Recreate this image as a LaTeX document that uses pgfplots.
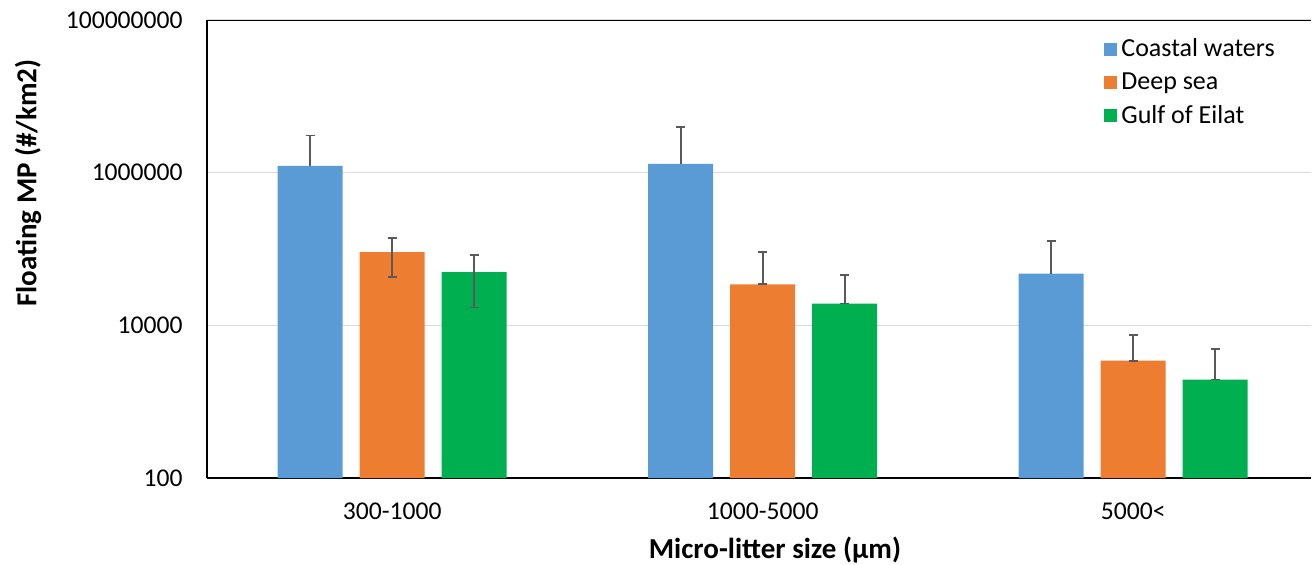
\documentclass[border=0pt]{standalone}
\usepackage{pgfplots}
\pgfplotsset{compat=1.18}
\usepackage{fontspec}
\setmainfont{Carlito}
\definecolor{cblue}{HTML}{5B9BD5}
\definecolor{corange}{HTML}{ED7D31}
\definecolor{cgreen}{HTML}{00B050}
\definecolor{errc}{HTML}{595959}
\definecolor{gridc}{HTML}{D9D9D9}
\begin{document}
\begin{tikzpicture}
\useasboundingbox (-103.5pt,-43pt) rectangle (552.5pt,239pt);
\begin{axis}[
  scale only axis,
  width=552pt, height=229pt,
  ymode=log, log origin=infty,
  ymin=100, ymax=1e8,
  xmin=-0.5, xmax=2.48,
  ytick={100,1e4,1e6,1e8},
  yticklabels={100,10000,1000000,100000000},
  xtick={0,1,2},
  xticklabels={300-1000,1000-5000,5000<},
  major tick length=0pt,
  minor tick num=0,
  ymajorgrids,
  major grid style={draw=gridc, line width=0.65pt},
  axis lines=left,
  axis line style={-, black, line width=0.65pt},
  tick label style={font=\fontsize{12.8}{15}\selectfont},
  yticklabel style={anchor=east, inner sep=0pt, xshift=-12pt},
  xticklabel style={anchor=north, inner sep=0pt, yshift=-12pt},
  ylabel={Floating MP (\#/km2)},
  xlabel={Micro-litter size (µm)},
  label style={font=\fontsize{14.5}{16}\selectfont\bfseries},
  ylabel style={at={(axis description cs:-0.162,0.644)}, anchor=center},
  xlabel style={at={(axis description cs:0.5145,-0.157)}, anchor=center},
  ybar=8.5pt, bar width=32.5pt,
  legend style={at={(rel axis cs:0.8125,0.969)}, anchor=north west, draw=none, fill=none,
    font=\fontsize{13}{15}\selectfont, row sep=2.5pt, inner sep=0pt},
  legend cell align=left,
  legend image code/.code={\fill[#1] (0pt,-3.25pt) rectangle (6.5pt,3.25pt);},
  error bars/error bar style={errc, line width=0.8pt},
  error bars/error mark options={rotate=90, errc, mark size=2.25pt, line width=0.8pt},
]
\addplot[fill=cblue, draw=none, error bars/.cd, y dir=plus, y explicit]
  coordinates {(0,1.225e6) += (0,1.835e6) (1,1.30e6) += (0,2.65e6) (2,4.77e4) += (0,7.9e4)};
\addplot[fill=corange, draw=none, error bars/.cd, y dir=both, y explicit]
  coordinates {(0,9.1e4) += (0,4.9e4) -= (0,4.83e4) (1,3.45e4) += (0,5.75e4) -= (0,0) (2,3.44e3) += (0,4.03e3) -= (0,0)};
\addplot[fill=cgreen, draw=none, error bars/.cd, y dir=both, y explicit]
  coordinates {(0,4.96e4) += (0,3.34e4) -= (0,3.24e4) (1,1.93e4) += (0,2.67e4) -= (0,0) (2,1.95e3) += (0,2.94e3) -= (0,0)};
\legend{Coastal waters, Deep sea, Gulf of Eilat}
\draw[black, line width=0.65pt] (rel axis cs:0,1) -- (rel axis cs:1,1);
\end{axis}
\end{tikzpicture}
\end{document}
